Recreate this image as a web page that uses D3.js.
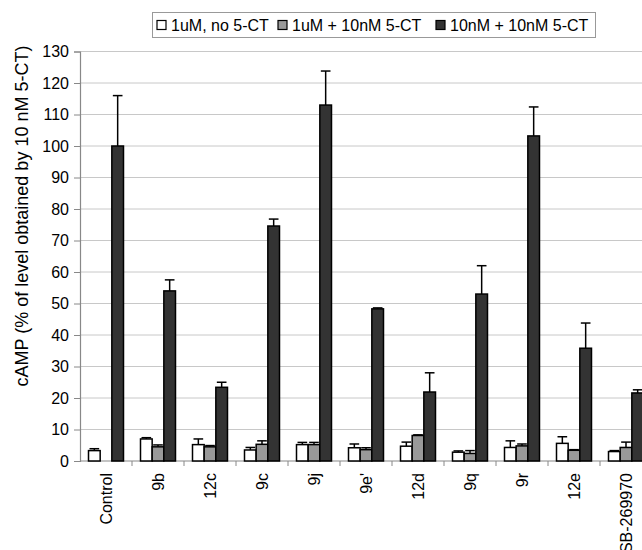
<!DOCTYPE html>
<html>
<head>
<meta charset="utf-8">
<script src="https://cdn.jsdelivr.net/npm/d3@7"></script>
<style>
  html, body { margin: 0; padding: 0; background: #fff; }
  svg { display: block; font-family: "Liberation Sans", Arial, sans-serif; }
</style>
</head>
<body>
<svg id="chart" width="642" height="550"></svg>
<script>
const categories = ["Control", "9b", "12c", "9c", "9j", "9e'", "12d", "9q", "9r", "12e", "SB-269970"];
const seriesNames = ["1uM, no 5-CT", "1uM + 10nM 5-CT", "10nM + 10nM 5-CT"];
const noCT      = [3.3, 7.0, 5.2, 3.5, 5.2, 4.2, 4.7, 2.8, 4.3, 5.6, 3.0];
const noCTErr   = [0.6, 0.4, 1.8, 0.8, 0.7, 1.2, 1.3, 0.4, 2.1, 2.1, 0.3];
const uM10nM    = [null, 4.5, 4.5, 5.3, 5.2, 3.6, 8.1, 2.4, 4.8, 3.4, 4.3];
const uM10nMErr = [null, 0.6, 0.4, 1.1, 0.7, 0.6, 0.2, 0.9, 0.6, 0.2, 1.7];
const nM10nM    = [100, 54, 23.4, 74.6, 113, 48.3, 21.9, 53, 103.2, 35.8, 21.6];
const nM10nMErr = [16, 3.5, 1.6, 2.2, 10.8, 0.3, 6.1, 9, 9.2, 8, 1];
const yTicks = [0, 10, 20, 30, 40, 50, 60, 70, 80, 90, 100, 110, 120, 130];
const yTitle = "cAMP (% of level obtained by 10 nM 5-CT)";
const fills = ["#ffffff", "#999999", "#333333"];

const values = [noCT, uM10nM, nM10nM];
const errors = [noCTErr, uM10nMErr, nM10nMErr];

const svg = d3.select("#chart");
const plotLeft = 80, plotBottom = 461, plotTop = 51.5, step = 52;

const x0 = d3.scaleBand().domain(categories)
  .range([plotLeft, plotLeft + step * categories.length])
  .paddingInner(0.327).paddingOuter(0.1635);
const x1 = d3.scaleBand().domain([0, 1, 2]).range([0, x0.bandwidth()]);
const y = d3.scaleLinear().domain([0, 130]).range([plotBottom, plotTop]);

// gridlines
svg.append("g").selectAll("line").data(yTicks.filter(t => t > 0)).join("line")
  .attr("x1", plotLeft).attr("x2", 642)
  .attr("y1", d => y(d)).attr("y2", d => y(d))
  .attr("stroke", "#c8c8c8").attr("stroke-width", 1);

// y axis
const yAxis = svg.append("g").attr("transform", `translate(${plotLeft},0)`)
  .call(d3.axisLeft(y).tickValues(yTicks).tickSize(6).tickPadding(5));
yAxis.select(".domain").attr("stroke", "#888").attr("stroke-width", 1.2);
yAxis.selectAll(".tick line").attr("stroke", "#888");
yAxis.selectAll(".tick text").attr("font-size", 16).attr("fill", "#000")
  .attr("font-family", "Liberation Sans, Arial, sans-serif");

// x axis
svg.append("line").attr("x1", plotLeft).attr("x2", 642).attr("y1", plotBottom).attr("y2", plotBottom)
  .attr("stroke", "#888").attr("stroke-width", 1.2);
svg.append("g").selectAll("line").data(categories.slice(1)).join("line")
  .attr("x1", d => x0(d) - x0.step() * 0.1635).attr("x2", d => x0(d) - x0.step() * 0.1635)
  .attr("y1", plotBottom).attr("y2", plotBottom + 5)
  .attr("stroke", "#888").attr("stroke-width", 1);
svg.append("g").selectAll("text").data(categories).join("text")
  .attr("transform", d => `translate(${x0(d) + x0.bandwidth() / 2},473) rotate(-90)`)
  .attr("text-anchor", "end").attr("dy", "0.35em")
  .attr("font-size", 16).attr("fill", "#000")
  .text(d => d);

// bars
const groups = svg.append("g").selectAll("g").data(categories).join("g")
  .attr("transform", d => `translate(${x0(d)},0)`);
groups.each(function (c, i) {
  const g = d3.select(this);
  const bd = [0, 1, 2].map(s => ({ s, v: values[s][i], e: errors[s][i] }))
    .filter(d => d.v !== null);
  g.selectAll("line.err").data(bd).join("line").attr("class", "err")
    .attr("x1", d => x1(d.s) + x1.bandwidth() / 2).attr("x2", d => x1(d.s) + x1.bandwidth() / 2)
    .attr("y1", d => y(d.v)).attr("y2", d => y(d.v + d.e))
    .attr("stroke", "#000").attr("stroke-width", 1.5);
  g.selectAll("line.cap").data(bd).join("line").attr("class", "cap")
    .attr("x1", d => x1(d.s) + 1).attr("x2", d => x1(d.s) + x1.bandwidth() - 1)
    .attr("y1", d => y(d.v + d.e)).attr("y2", d => y(d.v + d.e))
    .attr("stroke", "#000").attr("stroke-width", 1.5);
  g.selectAll("rect").data(bd).join("rect")
    .attr("x", d => x1(d.s)).attr("width", x1.bandwidth())
    .attr("y", d => y(d.v)).attr("height", d => plotBottom - y(d.v))
    .attr("fill", d => fills[d.s]).attr("stroke", "#000").attr("stroke-width", 1.5);
});

// y title
svg.append("text")
  .attr("transform", `translate(22,216) rotate(-90)`)
  .attr("text-anchor", "middle").attr("dy", "0.35em")
  .attr("font-size", 18).attr("fill", "#000")
  .text(yTitle);

// legend
const leg = svg.append("g");
leg.append("rect").attr("x", 152.5).attr("y", 12.5).attr("width", 443).attr("height", 25)
  .attr("fill", "#fff").attr("stroke", "#999").attr("stroke-width", 1);
const legX = [157, 278, 436];
seriesNames.forEach((name, s) => {
  leg.append("rect").attr("x", legX[s]).attr("y", 20.5).attr("width", 9).attr("height", 9)
    .attr("fill", fills[s]).attr("stroke", "#000").attr("stroke-width", 1.2);
  leg.append("text").attr("x", legX[s] + 14).attr("y", 31)
    .attr("font-size", 16).attr("fill", "#000").text(name);
});
</script>
</body>
</html>
